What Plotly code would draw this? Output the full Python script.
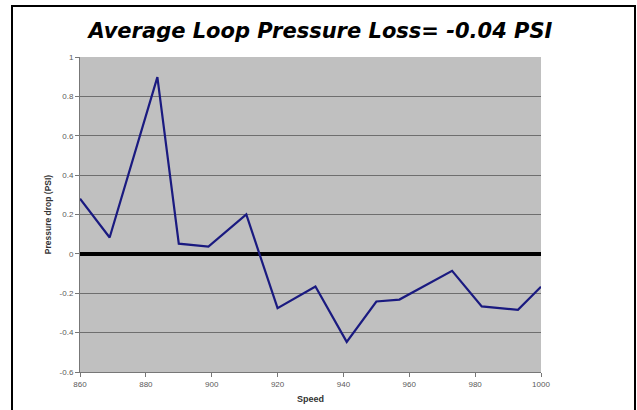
import plotly.graph_objects as go

speed = [860, 869, 883.5, 890, 899, 910.5, 920, 931.5, 941, 950, 957, 973, 982, 993, 1000]
pressure_drop = [0.28, 0.083, 0.898, 0.052, 0.037, 0.20, -0.276, -0.166, -0.447, -0.242,
                 -0.232, -0.086, -0.267, -0.284, -0.167]
zero_line = [0] * len(speed)

y_ticks = [-0.6, -0.4, -0.2, 0, 0.2, 0.4, 0.6, 0.8, 1]
y_tick_text = ["-0.6", "-0.4", "-0.2", "0", "0.2", "0.4", "0.6", "0.8", "1"]
x_ticks = [860, 880, 900, 920, 940, 960, 980, 1000]
x_tick_text = ["860", "880", "900", "920", "940", "960", "980", "1000"]

title_text = "Average Loop Pressure Loss= -0.04 PSI"

fig = go.Figure()
fig.add_trace(go.Scatter(x=speed, y=zero_line, mode="lines",
                         line=dict(color="black", width=4), hoverinfo="skip"))
fig.add_trace(go.Scatter(x=speed, y=pressure_drop, mode="lines",
                         line=dict(color="#1a1a80", width=2.2)))

W, H = 637, 410
L, R, T, B = 80, 96, 57, 38
pw, ph = W - L - R, H - T - B

def px_to_paper_x(p):
    return (p - L) / pw

def px_to_paper_y(p):
    return (H - B - p) / ph

fig.update_layout(
    width=W, height=H,
    margin=dict(l=L, r=R, t=T, b=B, pad=0, autoexpand=False),
    paper_bgcolor="white",
    plot_bgcolor="#c0c0c0",
    showlegend=False,
    title=dict(text=f"<b><i>{title_text}</i></b>",
               font=dict(family="DejaVu Sans", size=21, color="black"),
               x=320.5 / W, xanchor="center", xref="container",
               y=1 - 31 / H, yanchor="middle", yref="container"),
    font=dict(family="Liberation Sans", size=8, color="#555555"),
    xaxis=dict(range=[860, 1000], tickvals=x_ticks, ticktext=x_tick_text,
               showgrid=False, zeroline=False, showline=True, linecolor="#777777",
               linewidth=1, ticks="outside", ticklen=4, tickcolor="#777777",
               tickfont=dict(size=8, color="#5a5a5a"), automargin=False,
               title=dict(text="<b>Speed</b>", font=dict(size=9, color="#333333"), standoff=8)),
    yaxis=dict(range=[-0.6, 1], tickvals=y_ticks, ticktext=y_tick_text,
               showgrid=True, gridcolor="#6e6e6e", gridwidth=1,
               zeroline=False, showline=True, linecolor="#777777",
               linewidth=1, ticks="outside", ticklen=4, tickcolor="#777777",
               tickfont=dict(size=8, color="#5a5a5a"), automargin=False,
               title=dict(text="<b>Pressure drop (PSI)</b>", font=dict(size=8.5, color="#333333"), standoff=6)),
    shapes=[dict(type="rect", xref="paper", yref="paper",
                 x0=px_to_paper_x(12), x1=px_to_paper_x(635),
                 y0=px_to_paper_y(440), y1=px_to_paper_y(6),
                 line=dict(color="black", width=2), layer="above")],
)

fig.write_html("out.html", config={"displayModeBar": False},
               post_script="document.body.style.margin='0';document.body.style.padding='0';")
